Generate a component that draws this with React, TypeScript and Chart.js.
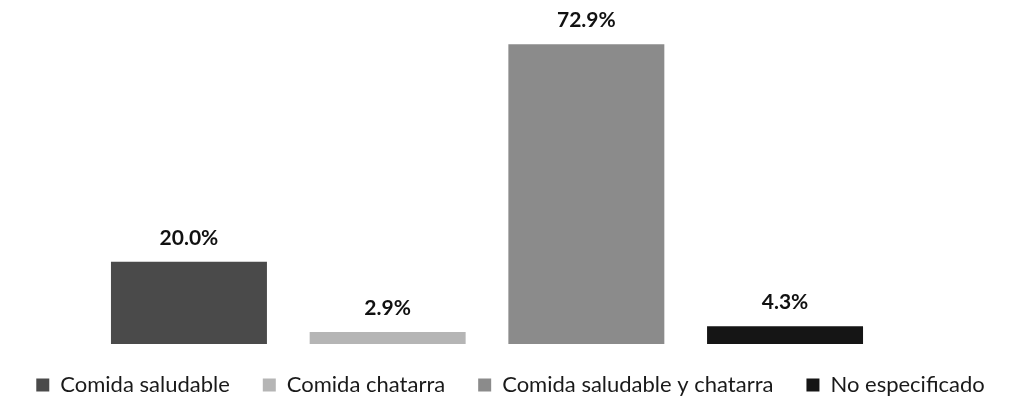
import React, { useEffect, useRef } from 'react';
import { Chart, registerables } from 'chart.js';

Chart.register(...registerables);

const categories = ['Comida saludable', 'Comida chatarra', 'Comida saludable y chatarra', 'No especificado'];
const values = [20.0, 2.9, 72.9, 4.3];
const valueLabels = ['20.0%', '2.9%', '72.9%', '4.3%'];
const colors = ['#4a4a4a', '#b5b5b5', '#8b8b8b', '#151515'];

const FONT = 'Lato, "Open Sans", sans-serif';
const LEGEND_PAD = 33;
const LEGEND_FONT = 22;
const LEGEND_SHIFT = LEGEND_PAD + LEGEND_FONT / 2 - 41;

const dataLabelPlugin = {
  id: 'dataLabels',
  afterDatasetsDraw(chart: any) {
    const ctx = chart.ctx;
    ctx.save();
    ctx.font = `bold 21px ${FONT}`;
    ctx.fillStyle = '#111111';
    ctx.textAlign = 'center';
    ctx.textBaseline = 'alphabetic';
    chart.data.datasets.forEach((_ds: any, i: number) => {
      const el = chart.getDatasetMeta(i).data[0];
      if (!el) return;
      ctx.fillText(valueLabels[i], el.x, el.y - 17);
    });
    ctx.restore();
  },
};

// Lets the legend keep wide horizontal spacing while sitting close under the bars.
const legendShiftPlugin = {
  id: 'legendShift',
  beforeDraw(chart: any) {
    const lg = chart.legend;
    if (lg) { lg._origTop = lg.top; lg.top = lg.top - LEGEND_SHIFT; }
  },
  afterDraw(chart: any) {
    const lg = chart.legend;
    if (lg && lg._origTop !== undefined) { lg.top = lg._origTop; delete lg._origTop; }
  },
};

export default function App() {
  const ref = useRef<HTMLCanvasElement | null>(null);
  useEffect(() => {
    if (!ref.current) return;
    const chart = new Chart(ref.current, {
      type: 'bar',
      data: {
        labels: [''],
        datasets: categories.map((c, i) => ({
          label: c,
          data: [values[i]],
          backgroundColor: colors[i],
          borderWidth: 0,
          categoryPercentage: 0.816,
          barPercentage: 0.785,
        })),
      },
      options: {
        responsive: false,
        animation: false,
        layout: { padding: { top: 15, left: 0, right: 0, bottom: 0 } },
        scales: {
          x: { display: false },
          y: {
            position: 'right',
            display: true,
            min: 0,
            max: 80,
            ticks: { display: false },
            grid: { display: false },
            border: { display: false },
            afterFit: (s: any) => { s.width = 47; },
          },
        },
        plugins: {
          tooltip: { enabled: false },
          legend: {
            position: 'bottom',
            maxHeight: 58,
            labels: {
              boxWidth: 13,
              boxHeight: 13,
              padding: LEGEND_PAD,
              color: '#1a1a1a',
              font: { family: FONT, size: LEGEND_FONT },
            },
          },
        },
      } as any,
      plugins: [dataLabelPlugin, legendShiftPlugin],
    });
    return () => chart.destroy();
  }, []);
  return (
    <div style={{ position: 'absolute', left: 0, top: 0, width: 1021, height: 402, background: '#fff' }}>
      <canvas ref={ref} width={1021} height={402} />
    </div>
  );
}
